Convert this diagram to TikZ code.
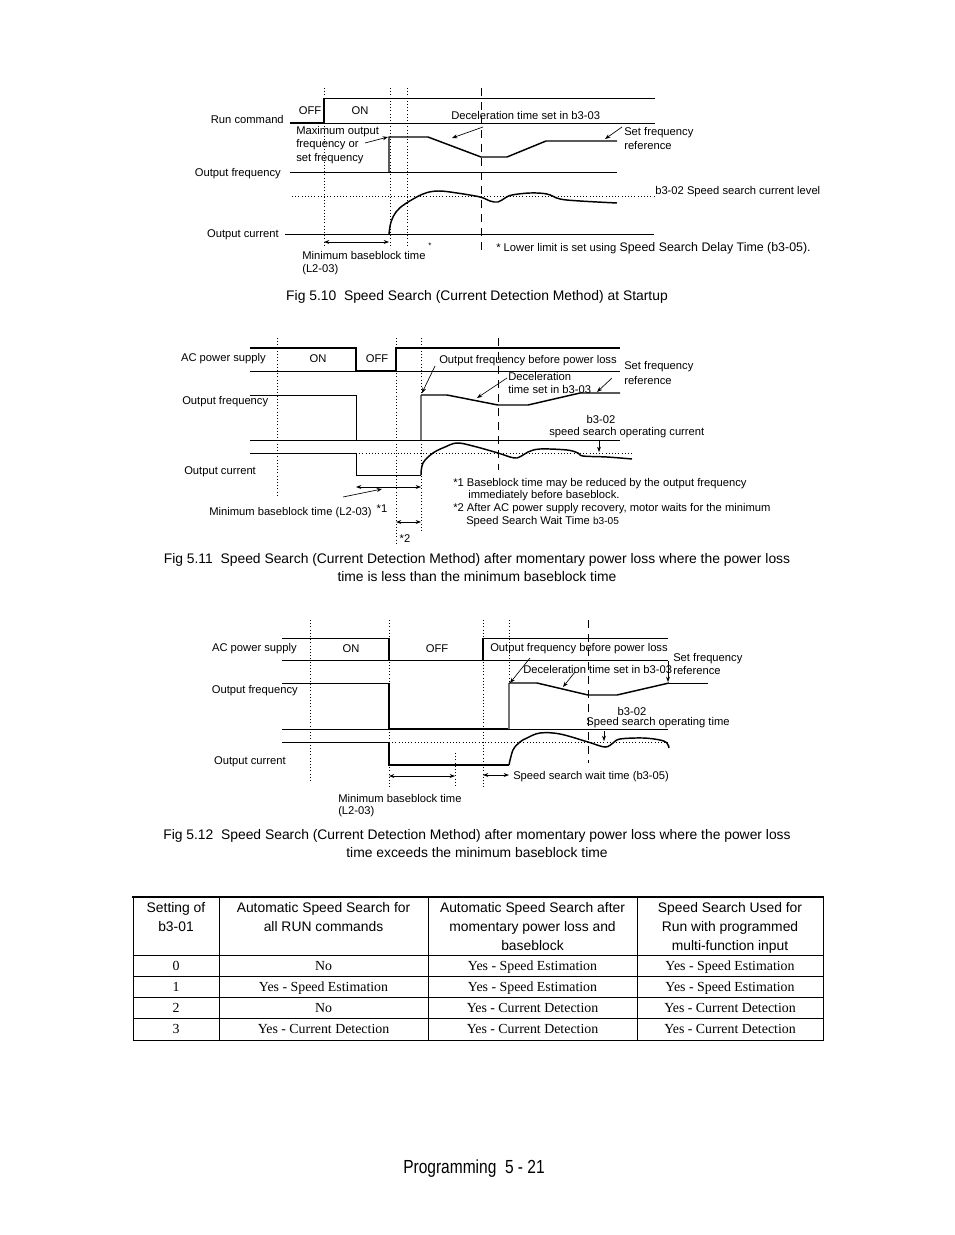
\documentclass[tikz,border=0pt]{standalone}
\usepackage{fontspec}
\setmainfont{Liberation Sans}
\newfontfamily\tms{Liberation Serif}
\newfontfamily\narrowf[FakeStretch=0.82]{Liberation Sans}
\usetikzlibrary{arrows.meta}
\tikzset{
 lbl/.style={font=\fontsize{8.4}{10}\selectfont, inner sep=0pt, yshift=-1.3pt},
 capt/.style={font=\fontsize{10.4}{12}\selectfont, inner sep=0pt, yshift=-1.4pt},
 th/.style={font=\fontsize{10.4}{12}\selectfont, inner sep=0pt, text height=7.5pt, text depth=2.2pt, yshift=-1.2pt},
 td/.style={font=\tms\fontsize{10.4}{12}\selectfont, inner sep=0pt, text height=7.2pt, text depth=2.2pt, yshift=-1.2pt},
 thinl/.style={line width=0.6pt},
 sigl/.style={line width=1.1pt},
 grayl/.style={line width=1.5pt, black!55},
 dotv/.style={line width=0.7pt, dash pattern=on 0.8pt off 1.6pt},
 dashv/.style={line width=0.7pt, dash pattern=on 6pt off 4.5pt},
 ptr/.style={line width=0.5pt, -{Stealth[length=4pt,width=3pt]}},
 dbl/.style={line width=0.6pt, {Stealth[length=4pt,width=3pt]}-{Stealth[length=4pt,width=3pt]}},
}
\begin{document}
\begin{tikzpicture}[x=0.75pt,y=-0.75pt]
\useasboundingbox (0,0) rectangle (954,1235);
\fill[white] (0,0) rectangle (954,1235);

% ================= Fig 5.10 =================
\draw[dotv] (324,88) -- (324,245);
\draw[dotv] (390,88) -- (390,248);
\draw[dotv] (407,88) -- (407,245);
\draw[dashv] (481,88) -- (481,255);
% run command
\draw[sigl] (290,123) -- (324,123) -- (324,98);
\draw[thinl] (324,98) -- (655,98);
\draw[thinl] (324,123) -- (655,123);
\node[lbl, anchor=east] (rc) at (284,118) {Run command};
\node[lbl] (off1) at (310,109) {OFF};
\node[lbl] (on1) at (360,109) {ON};
\node[lbl, anchor=west] (dec1) at (451,114) {Deceleration time set in b3-03};
% output frequency
\draw[thinl] (290,172) -- (617,172);
\draw[sigl] (389,172) -- (389,137) -- (428,137) -- (481,157) -- (507,157) -- (546,141) -- (617,141);
\node[lbl, anchor=west] (mo1) at (296,130) {Maximum output};
\node[lbl, anchor=west] (mo2) at (296,143) {frequency or};
\node[lbl, anchor=west] (mo3) at (296,157) {set frequency};
\draw[ptr] (365,143) -- (388,137);
\draw[ptr] (483,127) -- (452,138);
\node[lbl, anchor=west] (sf1) at (624,131) {Set frequency};
\node[lbl, anchor=west] (sf2) at (624,144) {reference};
\draw[ptr] (622,127) -- (605,139);
\node[lbl, anchor=east] (of1) at (281,172) {Output frequency};
% output current
\draw[thinl] (285,234) -- (654,234);
\draw[dotv] (292,196) -- (654,196);
\draw[sigl] plot[smooth, tension=0.6] coordinates {(389,234) (391,222) (396,212) (405,204) (423,194) (438,191) (457,193) (480,197) (490,201) (498,202) (505,198) (512,195) (530,193) (547,194) (560,199) (580,201) (617,203)};
\node[lbl, anchor=east] (oc1) at (279,233) {Output current};
\node[lbl, anchor=west] (b302a) at (655,190) {b3-02 Speed search current level};
\draw[dbl] (324,242) -- (389,242);
\node[lbl, anchor=west] (mb1) at (302,254) {Minimum baseblock time};
\node[lbl, anchor=west] (mb2) at (302,268) {(L2-03)};
\node[lbl] (st1) at (430,244) {\fontsize{6}{6}\selectfont *};
\node[lbl, anchor=west] (ll1) at (496,247) {* Lower limit is set using \fontsize{9.3}{11}\selectfont Speed Search Delay Time (b3-05).};
\node[capt] (cap10) at (477,295) {Fig 5.10\ \ Speed Search (Current Detection Method) at Startup};

% ================= Fig 5.11 =================
\draw[dotv] (277,338) -- (277,497);
\draw[dotv] (396,338) -- (396,543);
\draw[dotv] (421,338) -- (421,533);
\draw[dashv] (498,338) -- (498,470);
% AC supply
\draw[thinl] (250,371) -- (620,371);
\draw[sigl] (250,348) -- (356,348) -- (356,371) -- (396,371) -- (396,348) -- (620,348);
\node[lbl, anchor=east] (ac2) at (266,357) {AC power supply};
\node[lbl] (on2) at (318,357) {ON};
\node[lbl] (off2) at (377,357) {OFF};
% output frequency
\draw[thinl] (250,440) -- (620,440);
\draw[thinl] (250,395) -- (356,395) -- (356,440);
\draw[grayl] (421,440) -- (421,395);
\draw[sigl] (421,395) -- (447,395) -- (498,405) -- (528,405) -- (580,393) -- (620,393);
\node[lbl, anchor=west] (of2) at (182,400) {Output frequency};
\node[lbl, anchor=west] (ofb2) at (439,359) {Output frequency before power loss};
\draw[ptr] (435,366) -- (422,393);
\node[lbl, anchor=west] (dc2a) at (508,375) {Deceleration};
\node[lbl, anchor=west] (dc2b) at (508,388) {time set in b3-03};
\draw[ptr] (507,378) -- (477,398);
\draw[ptr] (612,378) -- (597,392);
\node[lbl, anchor=west] (sf2a) at (624,365) {Set frequency};
\node[lbl, anchor=west] (sf2b) at (624,379) {reference};
% output current
\draw[thinl] (250,453) -- (356,453) -- (356,475) -- (421,475);
\draw[dotv] (356,453) -- (633,453);
\draw[sigl] plot[smooth, tension=0.6] coordinates {(421,475) (423,463) (433,453) (445,447) (457,443) (473,446) (498,453) (510,457) (517,458) (523,455) (528,452) (540,449) (567,450) (578,453) (583,456) (607,457) (632,459)};
\node[lbl, anchor=west] (oc2) at (184,470) {Output current};
\node[lbl] (b302b) at (601,418) {b3-02};
\node[lbl, anchor=west] (ssoc) at (549,431) {speed search operating current};
\draw[ptr] (599,441) -- (599,452);
\draw[dbl] (356,487) -- (421,487);
\draw[ptr] (343,497) -- (382,489);
\node[lbl, anchor=west] (mb2a) at (209,511) {Minimum baseblock time (L2-03)};
\node[lbl] (s1) at (382,507) {*1};
\draw[dbl] (396,522) -- (421,522);
\node[lbl] (s2) at (405,537) {*2};
\node[lbl, anchor=west] (n1a) at (453,482) {*1 Baseblock time may be reduced by the output frequency};
\node[lbl, anchor=west] (n1b) at (468,494) {immediately before baseblock.};
\node[lbl, anchor=west] (n2a) at (453,507) {*2 After AC power supply recovery, motor waits for the minimum};
\node[lbl, anchor=west] (n2b) at (466,520) {Speed Search Wait Time \fontsize{7.6}{9}\selectfont b3-05};
\node[capt] (cap11a) at (477,558) {Fig 5.11\ \ Speed Search (Current Detection Method) after momentary power loss where the power loss};
\node[capt] (cap11b) at (477,575) {time is less than the minimum baseblock time};

% ================= Fig 5.12 =================
\draw[dotv] (310,620) -- (310,783);
\draw[dotv] (389,620) -- (389,788);
\draw[dotv] (455,753) -- (455,788);
\draw[dotv] (483,620) -- (483,788);
\draw[dotv] (509,620) -- (509,683);
\draw[dashv] (588,620) -- (588,763);
% AC supply
\draw[thinl] (282,638) -- (389,638);
\draw[sigl] (389,638) -- (389,660);
\draw[thinl] (282,660) -- (668,660);
\draw[sigl] (483,660) -- (483,638);
\draw[thinl] (483,638) -- (668,638);
\node[lbl, anchor=east] (ac3) at (297,647) {AC power supply};
\node[lbl] (on3) at (351,647) {ON};
\node[lbl] (off3) at (437,647) {OFF};
% output frequency
\draw[thinl] (282,683) -- (389,683);
\draw[thinl] (282,729) -- (389,729);
\draw[sigl] (389,683) -- (389,729) -- (509,729);
\draw[thinl] (509,729) -- (668,729);
\draw[grayl] (509,729) -- (509,683);
\draw[sigl] (509,683) -- (537,683) -- (588,695) -- (617,695) -- (669,683);
\draw[thinl] (669,683) -- (708,683);
\node[lbl, anchor=east] (of3) at (298,689) {Output frequency};
\node[lbl, anchor=west] (ofb3) at (490,647) {Output frequency before power loss};
\draw[ptr] (530,658) -- (510,683);
\node[lbl, anchor=west] (dc3) at (523,668) {Deceleration time set in b3-03};
\draw[ptr] (575,672) -- (563,687);
\node[lbl, anchor=west] (sf3a) at (673,657) {Set frequency};
\node[lbl, anchor=west] (sf3b) at (673,669) {reference};
\draw[ptr] (668,661) -- (668,682);
% output current
\draw[thinl] (282,742) -- (389,742);
\draw[sigl] (389,742) -- (389,765) -- (509,765);
\draw[dotv] (389,742) -- (668,742);
\draw[sigl] plot[smooth, tension=0.6] coordinates {(509,765) (513,750) (520,742) (527,738) (540,733) (560,734) (588,742) (605,747) (613,743) (620,739) (643,738) (660,740) (667,743) (669,748)};
\node[lbl, anchor=east] (oc3) at (286,760) {Output current};
\node[lbl] (b302c) at (632,710) {b3-02};
\node[lbl] (ssot) at (658,721) {Speed search operating time};
\draw[ptr] (604,731) -- (604,741);
\draw[dbl] (389,776) -- (455,776);
\node[lbl, anchor=west] (mb3a) at (338,797) {Minimum baseblock time};
\node[lbl, anchor=west] (mb3b) at (338,810) {(L2-03)};
\draw[dbl] (483,775) -- (509,775);
\node[lbl, anchor=west] (ssw) at (513,775) {Speed search wait time (b3-05)};
\node[capt] (cap12a) at (477,834) {Fig 5.12\ \ Speed Search (Current Detection Method) after momentary power loss where the power loss};
\node[capt] (cap12b) at (477,851) {time exceeds the minimum baseblock time};

% ================= Table =================
\draw[line width=1.3pt] (132,897) -- (824,897);
\draw[line width=0.75pt] (133,897) -- (133,1040) -- (823,1040) -- (823,897);
\foreach \cx in {219,428,637} \draw[line width=0.75pt] (\cx,897) -- (\cx,1040);
\foreach \ry in {955,976,997,1018} \draw[line width=0.75pt] (133,\ry) -- (823,\ry);
\node[th] (h1a) at (176,907) {Setting of};
\node[th] (h1b) at (176,926) {b3-01};
\node[th] (h2a) at (323.5,907) {Automatic Speed Search for};
\node[th] (h2b) at (323.5,926) {all RUN commands};
\node[th] (h3a) at (532.5,907) {Automatic Speed Search after};
\node[th] (h3b) at (532.5,926) {momentary power loss and};
\node[th] (h3c) at (532.5,945) {baseblock};
\node[th] (h4a) at (730,907) {Speed Search Used for};
\node[th] (h4b) at (730,926) {Run with programmed};
\node[th] (h4c) at (730,945) {multi-function input};
\node[td] (r0a) at (176,966) {0};
\node[td] (r0b) at (323.5,966) {No};
\node[td] (r0c) at (532.5,966) {Yes - Speed Estimation};
\node[td] (r0d) at (730,966) {Yes - Speed Estimation};
\node[td] (r1a) at (176,987) {1};
\node[td] (r1b) at (323.5,987) {Yes - Speed Estimation};
\node[td] (r1c) at (532.5,987) {Yes - Speed Estimation};
\node[td] (r1d) at (730,987) {Yes - Speed Estimation};
\node[td] (r2a) at (176,1008) {2};
\node[td] (r2b) at (323.5,1008) {No};
\node[td] (r2c) at (532.5,1008) {Yes - Current Detection};
\node[td] (r2d) at (730,1008) {Yes - Current Detection};
\node[td] (r3a) at (176,1029) {3};
\node[td] (r3b) at (323.5,1029) {Yes - Current Detection};
\node[td] (r3c) at (532.5,1029) {Yes - Current Detection};
\node[td] (r3d) at (730,1029) {Yes - Current Detection};

% ================= Footer =================
\node[inner sep=0pt, font=\narrowf\fontsize{14.2}{16}\selectfont, yshift=-1.5pt] (foot) at (474,1167) {Programming\ \ 5 - 21};
\end{tikzpicture}
\end{document}
